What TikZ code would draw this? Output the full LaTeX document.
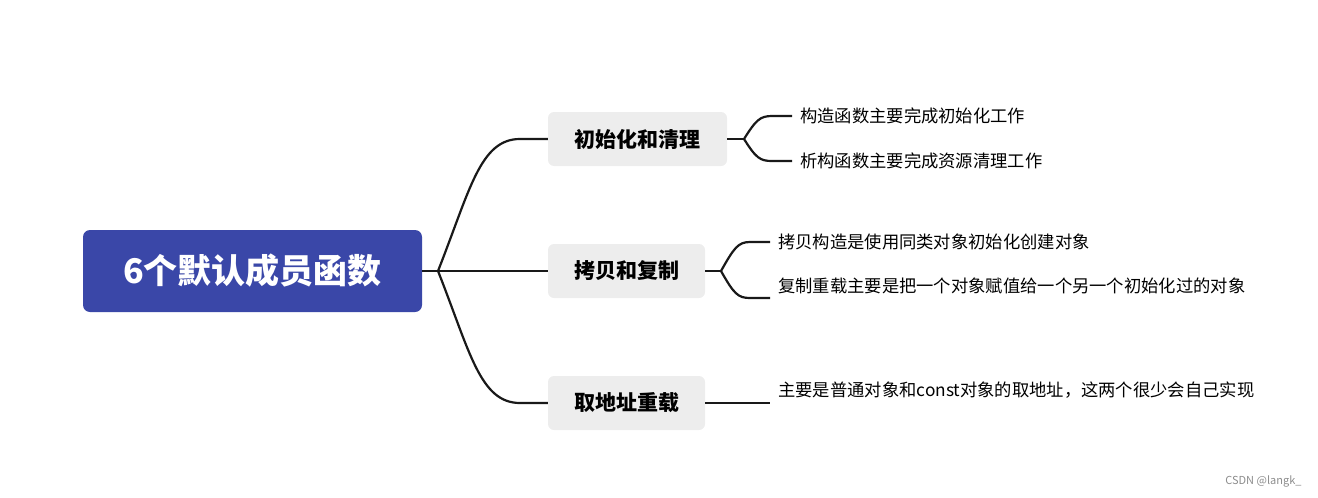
\documentclass[tikz,border=0pt]{standalone}
\usepackage{fontspec}
\setmainfont{Noto Sans CJK SC}
\begin{document}
\begin{tikzpicture}[x=1pt,y=-1pt,
  br/.style={fill=black!7,rounded corners=6pt,font=\bfseries\fontsize{21}{25}\selectfont},
  leaf/.style={anchor=west,font=\fontsize{17.3}{22}\selectfont,align=left,inner sep=0pt},
  ln/.style={line width=2.2pt,black!90}]
\useasboundingbox (0,0) rectangle (1318,498);
\node[fill={rgb,255:red,58;green,71;blue,168},rounded corners=7pt,minimum width=339pt,minimum height=82pt,text=white,font=\bfseries\fontsize{34}{40}\selectfont] (root) at (252.5,271) {6个默认成员函数};
\node[br,minimum width=179pt,minimum height=54pt] (a) at (637.5,139) {初始化和清理};
\node[br,minimum width=157pt,minimum height=54pt] (b) at (626.5,271) {拷贝和复制};
\node[br,minimum width=157pt,minimum height=54pt] (c) at (626.5,403) {取地址重载};
\coordinate (j) at (438,271);
\draw[ln] (root.east) -- (j);
\draw[ln] (j) .. controls (470,190) and (480,139) .. (520,139) -- (a.west);
\draw[ln] (j) -- (b.west);
\draw[ln] (j) .. controls (470,352) and (480,403) .. (520,403) -- (c.west);
\node[leaf] (a1) at (800,116) {构造函数主要完成初始化工作};
\node[leaf] (a2) at (800,161) {析构函数主要完成资源清理工作};
\node[leaf] (b1) at (778,242) {拷贝构造是使用同类对象初始化创建对象};
\node[leaf,anchor=north west,text width=372pt] (b2) at (778,278) {复制重载主要是把一个对象赋值给一个另一个初始化过的对象};
\node[leaf,anchor=north west,text width=385pt] (c1) at (778,382) {主要是普通对象和const对象的取地址，这两个很少会自己实现};
\coordinate (ja) at (744,139);
\coordinate (jb) at (721,271);
\draw[ln] (a.east) -- (ja);
\draw[ln] (ja) .. controls (756,120) and (760,116) .. (772,116) -- (792,116);
\draw[ln] (ja) .. controls (756,158) and (760,161) .. (772,161) -- (792,161);
\draw[ln] (b.east) -- (jb);
\draw[ln] (jb) .. controls (734,248) and (738,242) .. (750,242) -- (770,242);
\draw[ln] (jb) .. controls (734,294) and (738,298) .. (750,298) -- (770,298);
\draw[ln] (c.east) -- (770,403);
\node[anchor=east,font=\fontsize{11}{12}\selectfont,text=black!45] (w) at (1305,481) {CSDN @langk\_};
\end{tikzpicture}
\end{document}
